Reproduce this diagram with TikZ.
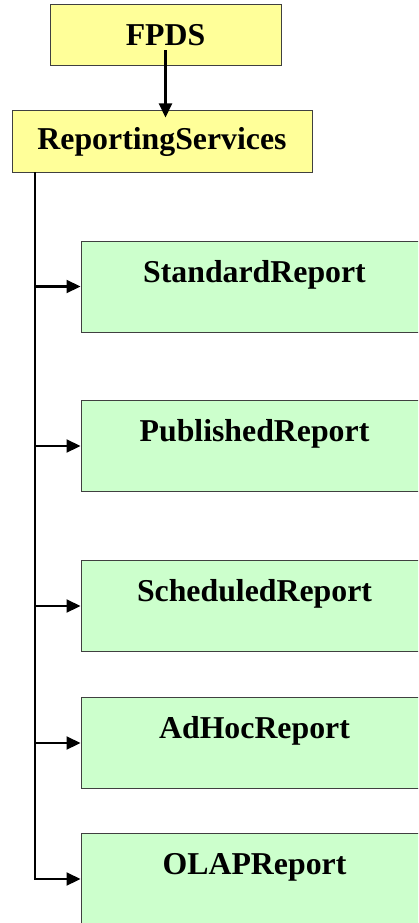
\documentclass[tikz,border=0pt]{standalone}
\usepackage{fontspec}
\setmainfont{Liberation Serif}
\usetikzlibrary{arrows.meta}
\definecolor{ybox}{HTML}{FFFF99}
\definecolor{gbox}{HTML}{CCFFCC}
\definecolor{edge}{HTML}{404040}
\tikzset{
  ybox/.style={draw=edge, line width=1pt, fill=ybox, minimum width=#1, minimum height=61pt, inner sep=0pt, font=\fontsize{31.8}{36}\selectfont\bfseries},
  gbox/.style={draw=edge, line width=1pt, fill=gbox, minimum width=347pt, inner ysep=0pt, text height=41pt, text depth=50pt, font=\fontsize{31.8}{36}\selectfont\bfseries},
  conn/.style={line width=2.2pt, draw=black},
  arr/.style={conn, -{Triangle[length=14pt,width=13pt]}}
}
\begin{document}
\begin{tikzpicture}[x=1pt,y=-1pt]
\useasboundingbox (0,0) rectangle (418,923);
\clip (0,0) rectangle (418,923);
\node[ybox=231pt] (fpds) at (165.5,35.5) {FPDS};
\node[ybox=300pt] (rs) at (162,141.5) {ReportingServices};
\node[gbox] (std) at (254.5,286.5) {StandardReport};
\node[gbox] (pub) at (254.5,446) {PublishedReport};
\node[gbox] (sch) at (254.5,606) {ScheduledReport};
\node[gbox] (adh) at (254.5,743) {AdHocReport};
\node[gbox] (olap) at (254.5,879) {OLAPReport};
\draw[arr] ([yshift=16pt]fpds.south) -- ([yshift=-7pt]rs.north -| fpds.south);
\coordinate (t) at (35,172);
\draw[conn] (t) |- ([xshift=-13pt]olap.west);
\draw[arr] (t |- std.west) -- (std.west);
\draw[arr] (t |- pub.west) -- (pub.west);
\draw[arr] (t |- sch.west) -- (sch.west);
\draw[arr] (t |- adh.west) -- (adh.west);
\draw[arr] (t |- olap.west) -- (olap.west);
\end{tikzpicture}
\end{document}
